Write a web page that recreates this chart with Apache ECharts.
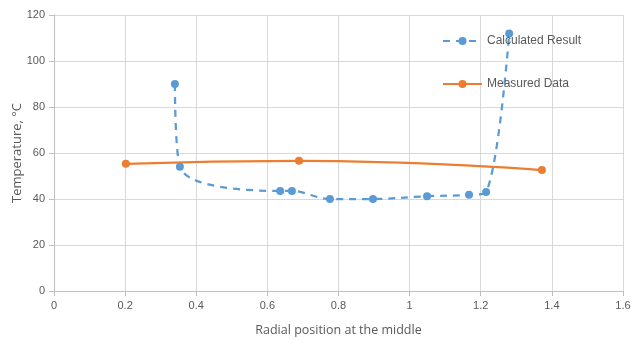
<!DOCTYPE html>
<html><head><meta charset="utf-8">
<script src="https://cdn.jsdelivr.net/npm/echarts@6/dist/echarts.min.js"></script>
<style>html,body{margin:0;padding:0;background:#fff}#c{width:631px;height:340px}</style>
</head><body><div id="c"></div>
<script>
const calcX = [0.340, 0.354, 0.636, 0.669, 0.776, 0.897, 1.049, 1.167, 1.215, 1.280];
const calcY = [90, 54, 43.5, 43.5, 40, 40, 41.2, 41.8, 43, 112];
const measX = [0.202, 0.689, 1.372];
const measY = [55.3, 56.6, 52.6];
const xTicks = [0, 0.2, 0.4, 0.6, 0.8, 1, 1.2, 1.4, 1.6];
const yTicks = [0, 20, 40, 60, 80, 100, 120];
const seriesNames = ['Calculated Result', 'Measured Data'];
const xTitle = 'Radial position at the middle';
const yTitle = 'Temperature, °C';

const font = 'Liberation Sans';
const chart = echarts.init(document.getElementById('c'));
chart.setOption({
  animation: false,
  textStyle: {fontFamily: font},
  grid: {left: 54, right: 8, top: 15, bottom: 49, containLabel: false, outerBoundsMode: 'none'},
  legend: {
    orient: 'vertical', left: 437, top: 30, itemGap: 31, itemWidth: 39, itemHeight: 10,
    textStyle: {color: '#595959', fontSize: 12, fontFamily: font},
    data: seriesNames
  },
  xAxis: {
    type: 'value', min: xTicks[0], max: xTicks[xTicks.length - 1], interval: 0.2,
    name: xTitle, nameLocation: 'middle', nameGap: 33,
    nameTextStyle: {color: '#595959', fontSize: 12.5, fontFamily: 'Open Sans'},
    axisLine: {lineStyle: {color: '#bfbfbf'}},
    axisTick: {show: true, length: 5, lineStyle: {color: '#bfbfbf'}},
    axisLabel: {color: '#595959', fontSize: 11, margin: 9},
    splitLine: {lineStyle: {color: '#d9d9d9'}}
  },
  yAxis: {
    type: 'value', min: yTicks[0], max: yTicks[yTicks.length - 1], interval: 20,
    name: yTitle, nameLocation: 'middle', nameGap: 30, nameRotate: 90, nameMoveOverlap: false,
    nameTextStyle: {color: '#595959', fontSize: 13, fontFamily: 'Open Sans'},
    axisLine: {show: true, lineStyle: {color: '#bfbfbf'}},
    axisTick: {show: true, length: 5, lineStyle: {color: '#bfbfbf'}},
    axisLabel: {color: '#595959', fontSize: 11, margin: 9},
    splitLine: {lineStyle: {color: '#d9d9d9'}}
  },
  series: [
    {
      name: seriesNames[0], type: 'line', smooth: 0.35,
      data: calcX.map((x, i) => [x, calcY[i]]),
      symbol: 'circle', symbolSize: 8,
      itemStyle: {color: '#5b9bd5'},
      lineStyle: {color: '#5b9bd5', width: 2.25, type: [7, 6]}
    },
    {
      name: seriesNames[1], type: 'line', smooth: 0.5,
      data: measX.map((x, i) => [x, measY[i]]),
      symbol: 'circle', symbolSize: 8,
      itemStyle: {color: '#ed7d31'},
      lineStyle: {color: '#ed7d31', width: 2.25}
    }
  ]
});
</script></body></html>
